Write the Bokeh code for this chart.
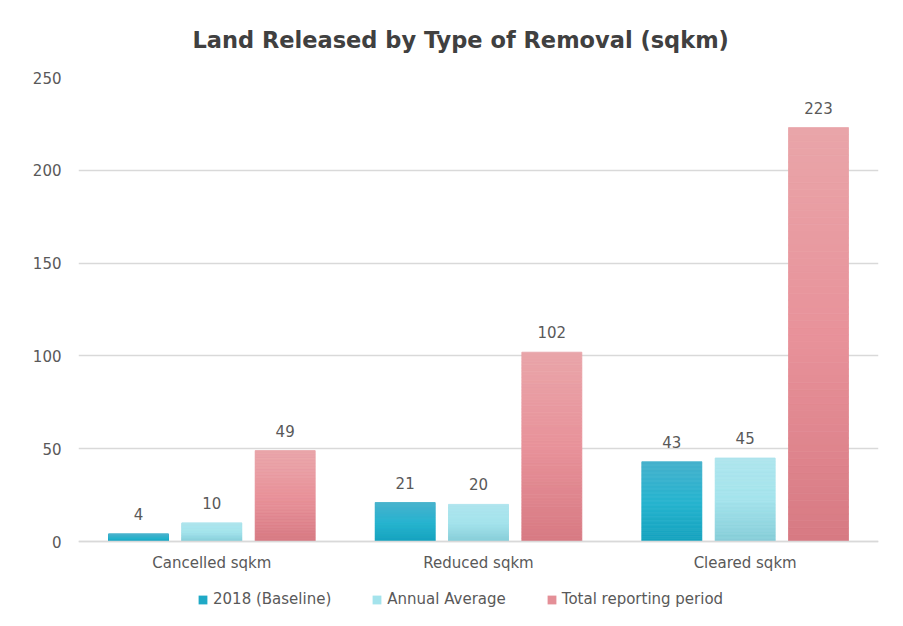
from bokeh.plotting import figure
from bokeh.models import (ColumnDataSource, FactorRange, LabelSet, Legend, LegendItem,
                          FixedTicker, Range1d)
from bokeh.core.properties import value
from bokeh.transform import dodge
from bokeh.embed import file_html
from bokeh.resources import INLINE

categories = ["Cancelled sqkm", "Reduced sqkm", "Cleared sqkm"]
series = ["2018 (Baseline)", "Annual Average", "Total reporting period"]
baseline_2018 = [4, 21, 43]
annual_average = [10, 20, 45]
total_period = [49, 102, 223]
y_ticks = [0, 50, 100, 150, 200, 250]

values = [baseline_2018, annual_average, total_period]
offsets = [-0.275, 0.0, 0.275]
# gradient stops (top, middle, bottom) per series
stops = [
    ["#47B2CD", "#27B4CF", "#15A2BE"],
    ["#AEE5ED", "#A4E3EC", "#86CDD8"],
    ["#E9A5A9", "#E8929A", "#D77A83"],
]
legend_colors = ["#1FA9C6", "#A4E3EC", "#E48F97"]

BAR_W = 0.225
N = 60
FONT = "DejaVu Sans"
Y_BOTTOM_ROOM = -40.4   # empty room below zero for x labels and legend


def hex2rgb(h):
    h = h.lstrip("#")
    return [int(h[i:i + 2], 16) for i in (0, 2, 4)]


def grad(stop3, t):
    top, mid, bot = [hex2rgb(s) for s in stop3]
    if t < 0.5:
        a, b, u = bot, mid, t / 0.5
    else:
        a, b, u = mid, top, (t - 0.5) / 0.5
    c = [round(a[i] + (b[i] - a[i]) * u) for i in range(3)]
    return "#%02x%02x%02x" % tuple(c)


p = figure(x_range=FactorRange(*categories, range_padding=0),
           y_range=Range1d(Y_BOTTOM_ROOM, 250),
           frame_width=800, frame_height=539,
           output_backend="svg", toolbar_location=None,
           min_border_left=78, min_border_right=9, min_border_top=77, min_border_bottom=0)

p.title.text = "Land Released by Type of Removal (sqkm)"
p.title.align = "left"
p.title.offset = 114
p.title.text_font = FONT
p.title.text_font_style = "bold"
p.title.text_font_size = "22.5px"
p.title.text_color = "#404040"
p.title.standoff = 49

p.outline_line_color = None
p.background_fill_color = "white"
p.border_fill_color = "white"

legend_items = []
for si, (vals, off, st) in enumerate(zip(values, offsets, stops)):
    xs, bottoms, tops, cols = [], [], [], []
    for cat, v in zip(categories, vals):
        for k in range(N):
            xs.append(cat)
            bottoms.append(v * k / N)
            tops.append(v * (k + 1) / N)
            cols.append(grad(st, (k + 0.5) / N))
    src = ColumnDataSource(dict(x=xs, bottom=bottoms, top=tops, color=cols))
    p.vbar(x=dodge("x", off, range=p.x_range), bottom="bottom", top="top", width=BAR_W,
           fill_color="color", line_color="color", line_width=0.8, source=src)

    lsrc = ColumnDataSource(dict(x=categories, y=vals, t=[str(v) for v in vals]))
    labels = LabelSet(x=dodge("x", off, range=p.x_range), y="y", text="t", source=lsrc,
                      text_align="center", text_baseline="bottom", y_offset=14,
                      text_font=value(FONT), text_font_size="15px", text_color="#595959")
    p.add_layout(labels)

    # zero-height key renderer so the legend draws a solid colour swatch
    key_src = ColumnDataSource(dict(x=[categories[0]], top=[0], bottom=[0]))
    key = p.vbar(x="x", top="top", bottom="bottom", width=BAR_W, source=key_src,
                 fill_color=legend_colors[si], line_color=None)
    legend_items.append(LegendItem(label=series[si], renderers=[key]))

p.yaxis.ticker = FixedTicker(ticks=y_ticks)
p.yaxis.axis_line_color = None
p.yaxis.major_tick_line_color = None
p.yaxis.minor_tick_line_color = None
p.yaxis.major_tick_out = 0
p.yaxis.major_tick_in = 0
p.yaxis.major_label_text_font = FONT
p.yaxis.major_label_text_font_size = "15px"
p.yaxis.major_label_text_color = "#595959"
p.yaxis.major_label_standoff = 17

p.xaxis.fixed_location = 0
p.xaxis.axis_line_color = "#d9d9d9"
p.xaxis.axis_line_width = 1.5
p.xaxis.major_tick_line_color = None
p.xaxis.minor_tick_line_color = None
p.xaxis.major_tick_out = 0
p.xaxis.major_tick_in = 0
p.xaxis.major_label_text_font = FONT
p.xaxis.major_label_text_font_size = "15px"
p.xaxis.major_label_text_color = "#595959"
p.xaxis.major_label_standoff = 12

p.xgrid.grid_line_color = None
p.ygrid.grid_line_color = "#d9d9d9"
p.ygrid.grid_line_width = 1.5

legend = Legend(items=legend_items, orientation="horizontal", location=(119, 8),
                glyph_width=11, glyph_height=11, label_standoff=5, spacing=40,
                label_text_font=FONT, label_text_font_size="15px",
                label_text_color="#595959", border_line_color=None,
                background_fill_alpha=0, margin=0, padding=4)
p.add_layout(legend, "center")

open("out.html", "w").write(file_html(p, INLINE))
